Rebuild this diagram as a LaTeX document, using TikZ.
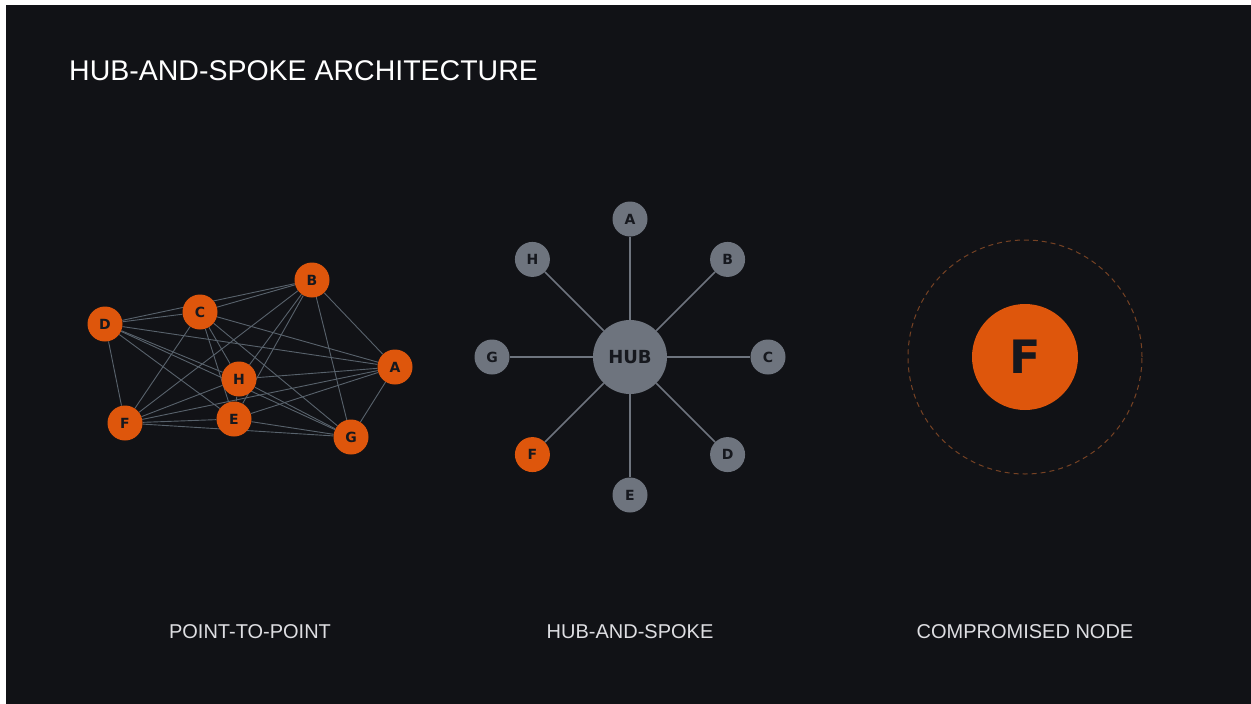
\documentclass[tikz,border=0pt]{standalone}
\usepackage{fontspec}
\setmainfont{Liberation Sans}
\newfontfamily\letterfont{DejaVu Sans}
\usepackage{tikz}
\usetikzlibrary{backgrounds}
\definecolor{bgdark}{RGB}{17,18,22}
\definecolor{ember}{RGB}{222,86,12}
\definecolor{slate}{RGB}{110,116,126}
\definecolor{ink}{RGB}{22,24,30}
\definecolor{meshline}{RGB}{88,98,108}
\definecolor{captiontext}{RGB}{222,222,226}
\definecolor{halo}{RGB}{118,66,36}
\tikzset{
  %Define style for the small peer circles
  peer/.style={
    circle,
    fill=ember,
    minimum size=35pt,
    inner sep=0pt,
    text=ink,
    font=\letterfont\bfseries\fontsize{14}{14}\selectfont},
  %Define style for the nodes around the hub
  spokenode/.style={peer, fill=slate},
  hubnode/.style={
    circle,
    fill=slate,
    minimum size=74pt,
    inner sep=0pt,
    text=ink,
    font=\letterfont\bfseries\fontsize{18}{18}\selectfont},
  bigpeer/.style={
    circle,
    fill=ember,
    minimum size=106pt,
    inner sep=0pt,
    text=ink,
    font=\letterfont\bfseries\fontsize{46}{46}\selectfont},
  % Define line styles
  link/.style={draw=meshline, line width=0.9pt},
  spoke/.style={draw=slate, line width=1.6pt},
  haloring/.style={
    circle,
    draw=halo,
    line width=1pt,
    dash pattern=on 5pt off 4pt,
    minimum size=234pt},
  caption/.style={
    anchor=base,
    inner sep=0pt,
    text=captiontext,
    font=\fontsize{20}{24}\selectfont}
}

\begin{document}
\begin{tikzpicture}[x=1pt,y=-1pt]
  \useasboundingbox (0,0) rectangle (1251,704);
  \begin{scope}[on background layer]
    \fill[white] (0,0) rectangle (1251,704);
    \fill[bgdark] (6,5) rectangle (1251,704);
  \end{scope}

  \node[anchor=base west, inner sep=0pt, text=white,
        font=\fontsize{28.5}{34}\selectfont] (title) at (69,80) {HUB-AND-SPOKE ARCHITECTURE};

  % point-to-point mesh
  \node[peer] (pA) at (395,367) {A};
  \node[peer] (pB) at (312,280) {B};
  \node[peer] (pC) at (200,312) {C};
  \node[peer] (pD) at (105,324) {D};
  \node[peer] (pE) at (234,419) {E};
  \node[peer] (pF) at (125,423) {F};
  \node[peer] (pG) at (351,437) {G};
  \node[peer] (pH) at (239,379) {H};
  \begin{scope}[on background layer]
    \foreach \a [count=\i] in {A,...,H}
      \foreach \b [count=\j] in {A,...,H}
        {\ifnum\j>\i \draw[link] (p\a) -- (p\b); \fi}
  \end{scope}

  % hub and spoke
  \node[hubnode] (hub) at (630,357) {HUB};
  \foreach \n/\ang in {A/-90,B/-45,C/0,D/45,E/90,G/180,H/-135}
    \node[spokenode] (h\n) at ([shift={(\ang:138)}]hub.center) {\n};
  \node[peer] (hF) at ([shift={(135:138)}]hub.center) {F};
  \foreach \n in {A,...,H}
    \draw[spoke] (hub) -- (h\n);

  % compromised node
  \node[bigpeer] (fbig) at (1025,357) {F};
  \node[haloring] (ring) at (fbig.center) {};

  \node[caption] (cap1) at (250,638) {POINT-TO-POINT};
  \node[caption] (cap2) at (630,638) {HUB-AND-SPOKE};
  \node[caption] (cap3) at (1025,638) {COMPROMISED NODE};
\end{tikzpicture}
\end{document}
